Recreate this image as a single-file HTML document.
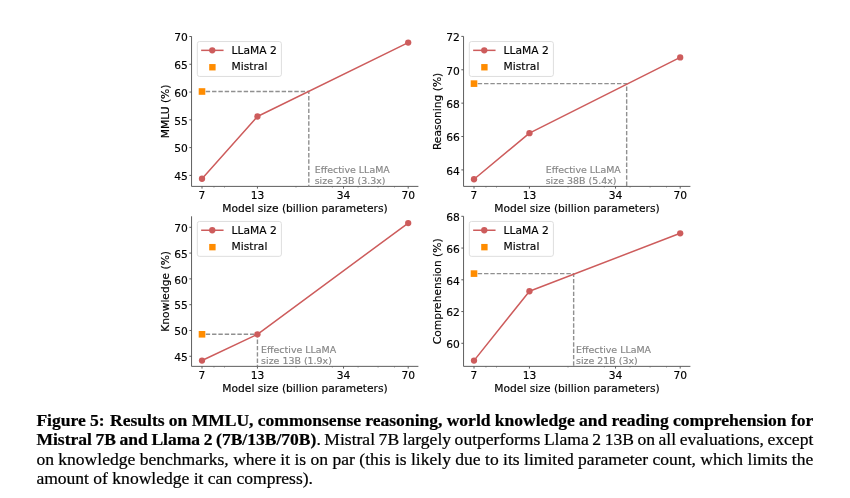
<!DOCTYPE html>
<html><head><meta charset="utf-8"><title>Figure 5</title>
<style>
html,body{margin:0;padding:0;background:#fff;}
body{width:850px;height:498px;overflow:hidden;position:relative;}
svg text{stroke-width:0.15px;}
svg{position:absolute;left:0;top:0;font-family:"DejaVu Sans","Liberation Sans",sans-serif;}
.cap{position:absolute;left:36.4px;top:410.6px;width:776px;font-family:"Liberation Serif",serif;font-size:17.54px;line-height:19.5px;color:#000;-webkit-text-stroke:0.22px #000;}
.l{white-space:nowrap;height:19.5px;}
.gap{display:inline-block;width:1.1px;}
#l1{word-spacing:-0.093px;}
#l2{word-spacing:-0.7855px;}
#l3{word-spacing:0.0178px;}
#l4{word-spacing:0px;}
.cap b{font-weight:bold;}
</style></head><body>
<svg width="850" height="498" viewBox="0 0 850 498">
<path d="M191.55 36.40V186.40H418.40" fill="none" stroke="#555555" stroke-width="0.95"/>
<path d="M191.55 175.40h-2.2" stroke="#555555" stroke-width="0.95"/>
<text x="187.75" y="180.15" font-size="10.7" text-anchor="end" fill="#000" stroke="#000">45</text>
<path d="M191.55 147.62h-2.2" stroke="#555555" stroke-width="0.95"/>
<text x="187.75" y="152.37" font-size="10.7" text-anchor="end" fill="#000" stroke="#000">50</text>
<path d="M191.55 119.84h-2.2" stroke="#555555" stroke-width="0.95"/>
<text x="187.75" y="124.59" font-size="10.7" text-anchor="end" fill="#000" stroke="#000">55</text>
<path d="M191.55 92.06h-2.2" stroke="#555555" stroke-width="0.95"/>
<text x="187.75" y="96.81" font-size="10.7" text-anchor="end" fill="#000" stroke="#000">60</text>
<path d="M191.55 64.28h-2.2" stroke="#555555" stroke-width="0.95"/>
<text x="187.75" y="69.03" font-size="10.7" text-anchor="end" fill="#000" stroke="#000">65</text>
<path d="M191.55 36.50h-2.2" stroke="#555555" stroke-width="0.95"/>
<text x="187.75" y="41.25" font-size="10.7" text-anchor="end" fill="#000" stroke="#000">70</text>
<path d="M202.00 186.40v2.2" stroke="#555555" stroke-width="0.95"/>
<text x="202.00" y="198.60" font-size="10.7" text-anchor="middle" fill="#000" stroke="#000">7</text>
<path d="M257.44 186.40v2.2" stroke="#555555" stroke-width="0.95"/>
<text x="257.44" y="198.60" font-size="10.7" text-anchor="middle" fill="#000" stroke="#000">13</text>
<path d="M343.53 186.40v2.2" stroke="#555555" stroke-width="0.95"/>
<text x="343.53" y="198.60" font-size="10.7" text-anchor="middle" fill="#000" stroke="#000">34</text>
<path d="M408.20 186.40v2.2" stroke="#555555" stroke-width="0.95"/>
<text x="408.20" y="198.60" font-size="10.7" text-anchor="middle" fill="#000" stroke="#000">70</text>
<path d="M213.96 186.40v1.4" stroke="#555555" stroke-width="0.8" opacity="0.55"/>
<path d="M224.51 186.40v1.4" stroke="#555555" stroke-width="0.8" opacity="0.55"/>
<path d="M296.01 186.40v1.4" stroke="#555555" stroke-width="0.8" opacity="0.55"/>
<path d="M332.32 186.40v1.4" stroke="#555555" stroke-width="0.8" opacity="0.55"/>
<path d="M358.09 186.40v1.4" stroke="#555555" stroke-width="0.8" opacity="0.55"/>
<path d="M378.07 186.40v1.4" stroke="#555555" stroke-width="0.8" opacity="0.55"/>
<path d="M394.40 186.40v1.4" stroke="#555555" stroke-width="0.8" opacity="0.55"/>
<text x="304.98" y="211.70" font-size="10.7" text-anchor="middle" fill="#000" stroke="#000">Model size (billion parameters)</text>
<text transform="translate(169.25 111.40) rotate(-90)" font-size="10.7" text-anchor="middle" fill="#000" stroke="#000">MMLU (%)</text>
<path d="M202.00 91.50H308.80V186.40" fill="none" stroke="#909090" stroke-width="1.4" stroke-dasharray="4.4 1.93" stroke-dashoffset="2.6"/>
<polyline points="202.00,178.73 257.44,116.51 408.20,42.61" fill="none" stroke="#cd5c5c" stroke-width="1.5" stroke-linejoin="round"/>
<circle cx="202.00" cy="178.73" r="3.15" fill="#cd5c5c"/>
<circle cx="257.44" cy="116.51" r="3.15" fill="#cd5c5c"/>
<circle cx="408.20" cy="42.61" r="3.15" fill="#cd5c5c"/>
<rect x="198.70" y="88.20" width="6.6" height="6.6" fill="#ff8c00"/>
<text x="314.70" y="173.20" font-size="9.45" fill="#868686" stroke="#868686">Effective LLaMA</text>
<text x="314.70" y="183.80" font-size="9.45" fill="#868686" stroke="#868686">size 23B (3.3x)</text>
<rect x="197.30" y="41.55" width="84.1" height="34.9" rx="2.2" fill="#fff" fill-opacity="0.8" stroke="#dedede" stroke-width="1"/>
<path d="M201.15 50.35h22.4" stroke="#cd5c5c" stroke-width="1.5"/>
<circle cx="212.25" cy="50.35" r="3.15" fill="#cd5c5c"/>
<rect x="209.20" y="64.05" width="6.4" height="6.4" fill="#ff8c00"/>
<text x="231.50" y="54.11" font-size="10.7" fill="#000" stroke="#000">LLaMA 2</text>
<text x="231.50" y="69.95" font-size="10.7" fill="#000" stroke="#000">Mistral</text>
<path d="M463.55 36.40V186.40H690.40" fill="none" stroke="#555555" stroke-width="0.95"/>
<path d="M463.55 169.90h-2.2" stroke="#555555" stroke-width="0.95"/>
<text x="459.75" y="174.65" font-size="10.7" text-anchor="end" fill="#000" stroke="#000">64</text>
<path d="M463.55 136.53h-2.2" stroke="#555555" stroke-width="0.95"/>
<text x="459.75" y="141.28" font-size="10.7" text-anchor="end" fill="#000" stroke="#000">66</text>
<path d="M463.55 103.15h-2.2" stroke="#555555" stroke-width="0.95"/>
<text x="459.75" y="107.90" font-size="10.7" text-anchor="end" fill="#000" stroke="#000">68</text>
<path d="M463.55 69.78h-2.2" stroke="#555555" stroke-width="0.95"/>
<text x="459.75" y="74.53" font-size="10.7" text-anchor="end" fill="#000" stroke="#000">70</text>
<path d="M463.55 36.40h-2.2" stroke="#555555" stroke-width="0.95"/>
<text x="459.75" y="41.15" font-size="10.7" text-anchor="end" fill="#000" stroke="#000">72</text>
<path d="M474.00 186.40v2.2" stroke="#555555" stroke-width="0.95"/>
<text x="474.00" y="198.60" font-size="10.7" text-anchor="middle" fill="#000" stroke="#000">7</text>
<path d="M529.44 186.40v2.2" stroke="#555555" stroke-width="0.95"/>
<text x="529.44" y="198.60" font-size="10.7" text-anchor="middle" fill="#000" stroke="#000">13</text>
<path d="M615.53 186.40v2.2" stroke="#555555" stroke-width="0.95"/>
<text x="615.53" y="198.60" font-size="10.7" text-anchor="middle" fill="#000" stroke="#000">34</text>
<path d="M680.20 186.40v2.2" stroke="#555555" stroke-width="0.95"/>
<text x="680.20" y="198.60" font-size="10.7" text-anchor="middle" fill="#000" stroke="#000">70</text>
<path d="M485.96 186.40v1.4" stroke="#555555" stroke-width="0.8" opacity="0.55"/>
<path d="M496.51 186.40v1.4" stroke="#555555" stroke-width="0.8" opacity="0.55"/>
<path d="M568.01 186.40v1.4" stroke="#555555" stroke-width="0.8" opacity="0.55"/>
<path d="M604.32 186.40v1.4" stroke="#555555" stroke-width="0.8" opacity="0.55"/>
<path d="M630.09 186.40v1.4" stroke="#555555" stroke-width="0.8" opacity="0.55"/>
<path d="M650.07 186.40v1.4" stroke="#555555" stroke-width="0.8" opacity="0.55"/>
<path d="M666.40 186.40v1.4" stroke="#555555" stroke-width="0.8" opacity="0.55"/>
<text x="576.98" y="211.70" font-size="10.7" text-anchor="middle" fill="#000" stroke="#000">Model size (billion parameters)</text>
<text transform="translate(441.25 111.40) rotate(-90)" font-size="10.7" text-anchor="middle" fill="#000" stroke="#000">Reasoning (%)</text>
<path d="M474.00 83.63H626.66V186.40" fill="none" stroke="#909090" stroke-width="1.4" stroke-dasharray="4.4 1.93" stroke-dashoffset="2.6"/>
<polyline points="474.00,179.25 529.44,133.19 680.20,57.43" fill="none" stroke="#cd5c5c" stroke-width="1.5" stroke-linejoin="round"/>
<circle cx="474.00" cy="179.25" r="3.15" fill="#cd5c5c"/>
<circle cx="529.44" cy="133.19" r="3.15" fill="#cd5c5c"/>
<circle cx="680.20" cy="57.43" r="3.15" fill="#cd5c5c"/>
<rect x="470.70" y="80.33" width="6.6" height="6.6" fill="#ff8c00"/>
<text x="545.70" y="173.20" font-size="9.45" fill="#868686" stroke="#868686">Effective LLaMA</text>
<text x="545.70" y="183.80" font-size="9.45" fill="#868686" stroke="#868686">size 38B (5.4x)</text>
<rect x="469.30" y="41.55" width="84.1" height="34.9" rx="2.2" fill="#fff" fill-opacity="0.8" stroke="#dedede" stroke-width="1"/>
<path d="M473.15 50.35h22.4" stroke="#cd5c5c" stroke-width="1.5"/>
<circle cx="484.25" cy="50.35" r="3.15" fill="#cd5c5c"/>
<rect x="481.20" y="64.05" width="6.4" height="6.4" fill="#ff8c00"/>
<text x="503.50" y="54.11" font-size="10.7" fill="#000" stroke="#000">LLaMA 2</text>
<text x="503.50" y="69.95" font-size="10.7" fill="#000" stroke="#000">Mistral</text>
<path d="M191.55 216.30V366.37H418.40" fill="none" stroke="#555555" stroke-width="0.95"/>
<path d="M191.55 356.27h-2.2" stroke="#555555" stroke-width="0.95"/>
<text x="187.75" y="361.02" font-size="10.7" text-anchor="end" fill="#000" stroke="#000">45</text>
<path d="M191.55 330.48h-2.2" stroke="#555555" stroke-width="0.95"/>
<text x="187.75" y="335.23" font-size="10.7" text-anchor="end" fill="#000" stroke="#000">50</text>
<path d="M191.55 304.68h-2.2" stroke="#555555" stroke-width="0.95"/>
<text x="187.75" y="309.43" font-size="10.7" text-anchor="end" fill="#000" stroke="#000">55</text>
<path d="M191.55 278.89h-2.2" stroke="#555555" stroke-width="0.95"/>
<text x="187.75" y="283.64" font-size="10.7" text-anchor="end" fill="#000" stroke="#000">60</text>
<path d="M191.55 253.09h-2.2" stroke="#555555" stroke-width="0.95"/>
<text x="187.75" y="257.84" font-size="10.7" text-anchor="end" fill="#000" stroke="#000">65</text>
<path d="M191.55 227.30h-2.2" stroke="#555555" stroke-width="0.95"/>
<text x="187.75" y="232.05" font-size="10.7" text-anchor="end" fill="#000" stroke="#000">70</text>
<path d="M202.00 366.37v2.2" stroke="#555555" stroke-width="0.95"/>
<text x="202.00" y="378.57" font-size="10.7" text-anchor="middle" fill="#000" stroke="#000">7</text>
<path d="M257.44 366.37v2.2" stroke="#555555" stroke-width="0.95"/>
<text x="257.44" y="378.57" font-size="10.7" text-anchor="middle" fill="#000" stroke="#000">13</text>
<path d="M343.53 366.37v2.2" stroke="#555555" stroke-width="0.95"/>
<text x="343.53" y="378.57" font-size="10.7" text-anchor="middle" fill="#000" stroke="#000">34</text>
<path d="M408.20 366.37v2.2" stroke="#555555" stroke-width="0.95"/>
<text x="408.20" y="378.57" font-size="10.7" text-anchor="middle" fill="#000" stroke="#000">70</text>
<path d="M213.96 366.37v1.4" stroke="#555555" stroke-width="0.8" opacity="0.55"/>
<path d="M224.51 366.37v1.4" stroke="#555555" stroke-width="0.8" opacity="0.55"/>
<path d="M296.01 366.37v1.4" stroke="#555555" stroke-width="0.8" opacity="0.55"/>
<path d="M332.32 366.37v1.4" stroke="#555555" stroke-width="0.8" opacity="0.55"/>
<path d="M358.09 366.37v1.4" stroke="#555555" stroke-width="0.8" opacity="0.55"/>
<path d="M378.07 366.37v1.4" stroke="#555555" stroke-width="0.8" opacity="0.55"/>
<path d="M394.40 366.37v1.4" stroke="#555555" stroke-width="0.8" opacity="0.55"/>
<text x="304.98" y="391.67" font-size="10.7" text-anchor="middle" fill="#000" stroke="#000">Model size (billion parameters)</text>
<text transform="translate(169.25 291.34) rotate(-90)" font-size="10.7" text-anchor="middle" fill="#000" stroke="#000">Knowledge (%)</text>
<path d="M202.00 334.29H257.44V366.37" fill="none" stroke="#909090" stroke-width="1.4" stroke-dasharray="4.4 1.93" stroke-dashoffset="2.6"/>
<polyline points="202.00,360.55 257.44,334.29 408.20,223.07" fill="none" stroke="#cd5c5c" stroke-width="1.5" stroke-linejoin="round"/>
<circle cx="202.00" cy="360.55" r="3.15" fill="#cd5c5c"/>
<circle cx="257.44" cy="334.29" r="3.15" fill="#cd5c5c"/>
<circle cx="408.20" cy="223.07" r="3.15" fill="#cd5c5c"/>
<rect x="198.70" y="330.99" width="6.6" height="6.6" fill="#ff8c00"/>
<text x="261.10" y="353.17" font-size="9.45" fill="#868686" stroke="#868686">Effective LLaMA</text>
<text x="261.10" y="363.77" font-size="9.45" fill="#868686" stroke="#868686">size 13B (1.9x)</text>
<rect x="197.30" y="221.45" width="84.1" height="34.9" rx="2.2" fill="#fff" fill-opacity="0.8" stroke="#dedede" stroke-width="1"/>
<path d="M201.15 230.25h22.4" stroke="#cd5c5c" stroke-width="1.5"/>
<circle cx="212.25" cy="230.25" r="3.15" fill="#cd5c5c"/>
<rect x="209.20" y="243.95" width="6.4" height="6.4" fill="#ff8c00"/>
<text x="231.50" y="234.01" font-size="10.7" fill="#000" stroke="#000">LLaMA 2</text>
<text x="231.50" y="249.85" font-size="10.7" fill="#000" stroke="#000">Mistral</text>
<path d="M463.55 216.30V366.37H690.40" fill="none" stroke="#555555" stroke-width="0.95"/>
<path d="M463.55 343.30h-2.2" stroke="#555555" stroke-width="0.95"/>
<text x="459.75" y="348.05" font-size="10.7" text-anchor="end" fill="#000" stroke="#000">60</text>
<path d="M463.55 311.55h-2.2" stroke="#555555" stroke-width="0.95"/>
<text x="459.75" y="316.30" font-size="10.7" text-anchor="end" fill="#000" stroke="#000">62</text>
<path d="M463.55 279.80h-2.2" stroke="#555555" stroke-width="0.95"/>
<text x="459.75" y="284.55" font-size="10.7" text-anchor="end" fill="#000" stroke="#000">64</text>
<path d="M463.55 248.05h-2.2" stroke="#555555" stroke-width="0.95"/>
<text x="459.75" y="252.80" font-size="10.7" text-anchor="end" fill="#000" stroke="#000">66</text>
<path d="M463.55 216.30h-2.2" stroke="#555555" stroke-width="0.95"/>
<text x="459.75" y="221.05" font-size="10.7" text-anchor="end" fill="#000" stroke="#000">68</text>
<path d="M474.00 366.37v2.2" stroke="#555555" stroke-width="0.95"/>
<text x="474.00" y="378.57" font-size="10.7" text-anchor="middle" fill="#000" stroke="#000">7</text>
<path d="M529.44 366.37v2.2" stroke="#555555" stroke-width="0.95"/>
<text x="529.44" y="378.57" font-size="10.7" text-anchor="middle" fill="#000" stroke="#000">13</text>
<path d="M615.53 366.37v2.2" stroke="#555555" stroke-width="0.95"/>
<text x="615.53" y="378.57" font-size="10.7" text-anchor="middle" fill="#000" stroke="#000">34</text>
<path d="M680.20 366.37v2.2" stroke="#555555" stroke-width="0.95"/>
<text x="680.20" y="378.57" font-size="10.7" text-anchor="middle" fill="#000" stroke="#000">70</text>
<path d="M485.96 366.37v1.4" stroke="#555555" stroke-width="0.8" opacity="0.55"/>
<path d="M496.51 366.37v1.4" stroke="#555555" stroke-width="0.8" opacity="0.55"/>
<path d="M568.01 366.37v1.4" stroke="#555555" stroke-width="0.8" opacity="0.55"/>
<path d="M604.32 366.37v1.4" stroke="#555555" stroke-width="0.8" opacity="0.55"/>
<path d="M630.09 366.37v1.4" stroke="#555555" stroke-width="0.8" opacity="0.55"/>
<path d="M650.07 366.37v1.4" stroke="#555555" stroke-width="0.8" opacity="0.55"/>
<path d="M666.40 366.37v1.4" stroke="#555555" stroke-width="0.8" opacity="0.55"/>
<text x="576.98" y="391.67" font-size="10.7" text-anchor="middle" fill="#000" stroke="#000">Model size (billion parameters)</text>
<text transform="translate(441.25 291.34) rotate(-90)" font-size="10.7" text-anchor="middle" fill="#000" stroke="#000">Comprehension (%)</text>
<path d="M474.00 273.61H573.65V366.37" fill="none" stroke="#909090" stroke-width="1.4" stroke-dasharray="4.4 1.93" stroke-dashoffset="2.6"/>
<polyline points="474.00,360.60 529.44,291.23 680.20,233.29" fill="none" stroke="#cd5c5c" stroke-width="1.5" stroke-linejoin="round"/>
<circle cx="474.00" cy="360.60" r="3.15" fill="#cd5c5c"/>
<circle cx="529.44" cy="291.23" r="3.15" fill="#cd5c5c"/>
<circle cx="680.20" cy="233.29" r="3.15" fill="#cd5c5c"/>
<rect x="470.70" y="270.31" width="6.6" height="6.6" fill="#ff8c00"/>
<text x="576.00" y="353.17" font-size="9.45" fill="#868686" stroke="#868686">Effective LLaMA</text>
<text x="576.00" y="363.77" font-size="9.45" fill="#868686" stroke="#868686">size 21B (3x)</text>
<rect x="469.30" y="221.45" width="84.1" height="34.9" rx="2.2" fill="#fff" fill-opacity="0.8" stroke="#dedede" stroke-width="1"/>
<path d="M473.15 230.25h22.4" stroke="#cd5c5c" stroke-width="1.5"/>
<circle cx="484.25" cy="230.25" r="3.15" fill="#cd5c5c"/>
<rect x="481.20" y="243.95" width="6.4" height="6.4" fill="#ff8c00"/>
<text x="503.50" y="234.01" font-size="10.7" fill="#000" stroke="#000">LLaMA 2</text>
<text x="503.50" y="249.85" font-size="10.7" fill="#000" stroke="#000">Mistral</text>
</svg>
<div class="cap">
<div class="l" id="l1"><b>Figure 5:<span class="gap"></span> Results on MMLU, commonsense reasoning, world knowledge and reading comprehension for</b></div>
<div class="l" id="l2"><b>Mistral 7B and Llama 2 (7B/13B/70B)</b>. Mistral 7B largely outperforms Llama 2 13B on all evaluations, except</div>
<div class="l" id="l3">on knowledge benchmarks, where it is on par (this is likely due to its limited parameter count, which limits the</div>
<div class="l" id="l4">amount of knowledge it can compress).</div>
</div>
</body></html>
